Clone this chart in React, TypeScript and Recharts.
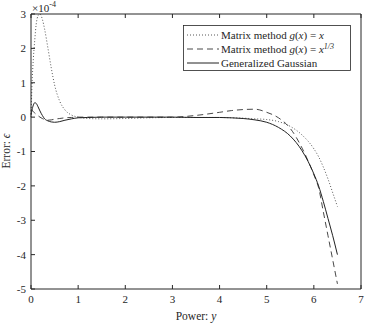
import React from "react";
import { LineChart, Line, XAxis, YAxis } from "recharts";

// power y, shared grid for the three error curves (values in units of 1e-4)
const powers = [
  0, 0.02, 0.05, 0.08, 0.11, 0.15, 0.19, 0.24, 0.29, 0.36, 0.43, 0.5, 0.61, 0.72, 0.86, 1.0,
  1.2, 1.5, 2.0, 2.5, 3.0, 3.5, 4.0, 4.25, 4.5, 4.75, 5.0, 5.25, 5.5, 5.75, 6.0, 6.1, 6.2,
  6.3, 6.4, 6.5,
];
const matrixLinear = [
  0, 0.9, 1.7, 2.25, 2.7, 2.95, 3.0, 2.85, 2.55, 2.0, 1.43, 0.94, 0.46, 0.21, 0.06, 0.0,
  -0.04, -0.05, -0.04, -0.02, -0.01, -0.01, -0.01, -0.02, -0.03, -0.05, -0.07, -0.13, -0.27,
  -0.52, -0.92, -1.15, -1.45, -1.8, -2.2, -2.6,
];
const matrixCubeRoot = [
  0.22, 0.2, 0.16, 0.12, 0.08, 0.04, 0.0, -0.04, -0.07, -0.09, -0.08, -0.06, -0.04, -0.02,
  -0.01, 0, 0, 0, 0, 0, 0.0, 0.05, 0.14, 0.19, 0.22, 0.23, 0.14, -0.02, -0.33, -0.9, -1.68,
  -2.05, -2.75, -3.45, -4.15, -4.85,
];
const gaussian = [
  0.05, 0.2, 0.35, 0.42, 0.4, 0.3, 0.18, 0.05, -0.05, -0.11, -0.14, -0.15, -0.13, -0.09,
  -0.05, -0.02, -0.01, 0, 0, 0, 0, -0.01, -0.01, -0.02, -0.04, -0.08, -0.15, -0.3, -0.55,
  -0.98, -1.65, -2.0, -2.45, -2.95, -3.45, -4.0,
];
const xTicks = [0, 1, 2, 3, 4, 5, 6, 7];
const yTicks = [-5, -4, -3, -2, -1, 0, 1, 2, 3];

const ink = "#262626";
const serif = "'Liberation Serif', 'DejaVu Serif', serif";

const data = powers.map((p, i) => ({
  p,
  linear: matrixLinear[i],
  cube: matrixCubeRoot[i],
  gauss: gaussian[i],
}));

const series = [
  { key: "linear", dash: "1 2", color: "#444", width: 0.9 },
  { key: "cube", dash: "6 4", color: "#333", width: 0.9 },
  { key: "gauss", dash: undefined, color: "#222", width: 1 },
];

function LegendLabel({ idx }: { idx: number }) {
  if (idx === 2) return <tspan>Generalized Gaussian</tspan>;
  return (
    <>
      <tspan>Matrix method  </tspan>
      <tspan fontStyle="italic">g</tspan>
      <tspan>(</tspan>
      <tspan fontStyle="italic">x</tspan>
      <tspan>) = </tspan>
      <tspan fontStyle="italic">x</tspan>
      {idx === 1 && (
        <tspan fontStyle="italic" fontSize={8} dy={-4}>
          1/3
        </tspan>
      )}
    </>
  );
}

export default function App() {
  const tickStyle = { fill: ink, fontSize: 11, fontFamily: serif };
  return (
    <div style={{ position: "absolute", left: 0, top: 0, background: "#fff" }}>
      <LineChart width={365} height={324} data={data} margin={{ top: 13, right: 3, bottom: 0, left: 0 }}>
        <XAxis
          xAxisId="b"
          type="number"
          dataKey="p"
          domain={[0, 7]}
          ticks={xTicks}
          interval={0}
          tickSize={-4}
          tickMargin={10}
          height={35}
          stroke={ink}
          tick={tickStyle}
        />
        <XAxis
          xAxisId="t"
          orientation="top"
          type="number"
          dataKey="p"
          domain={[0, 7]}
          ticks={xTicks}
          interval={0}
          tickSize={-4}
          height={1}
          stroke={ink}
          tickFormatter={() => ""}
        />
        <YAxis
          yAxisId="l"
          type="number"
          domain={[-5, 3]}
          ticks={yTicks}
          interval={0}
          tickSize={-4}
          tickMargin={9}
          width={31}
          stroke={ink}
          tick={tickStyle}
        />
        <YAxis
          yAxisId="r"
          orientation="right"
          type="number"
          domain={[-5, 3]}
          ticks={yTicks}
          interval={0}
          tickSize={-4}
          width={1}
          stroke={ink}
          tickFormatter={() => ""}
        />
        {series.map((s) => (
          <Line
            key={s.key}
            xAxisId="b"
            yAxisId="l"
            type="monotone"
            dataKey={s.key}
            stroke={s.color}
            strokeWidth={s.width}
            strokeDasharray={s.dash}
            dot={false}
            isAnimationActive={false}
          />
        ))}
        <text x={32} y={12} fontFamily={serif} fontSize={11} fill={ink}>
          ×10
          <tspan fontSize={8} dy={-5}>-4</tspan>
        </text>
        <text x={196} y={320} textAnchor="middle" fontFamily={serif} fontSize={11.5} fill={ink}>
          Power: <tspan fontStyle="italic">y</tspan>
        </text>
        <text
          x={10}
          y={151}
          transform="rotate(-90 10 151)"
          textAnchor="middle"
          fontFamily={serif}
          fontSize={11.5}
          fill={ink}
        >
          Error: <tspan fontStyle="italic">ϵ</tspan>
        </text>
        <g>
          <rect x={183.5} y={25.5} width={167} height={45} fill="#fff" stroke={ink} strokeWidth={0.8} />
          {series.map((s, i) => (
            <g key={s.key}>
              <line
                x1={187}
                x2={219}
                y1={35 + i * 14}
                y2={35 + i * 14}
                stroke={s.color}
                strokeWidth={s.width}
                strokeDasharray={s.dash}
              />
              <text x={221} y={38.5 + i * 14} fontFamily={serif} fontSize={11} fill={ink}>
                <LegendLabel idx={i} />
              </text>
            </g>
          ))}
        </g>
      </LineChart>
    </div>
  );
}
